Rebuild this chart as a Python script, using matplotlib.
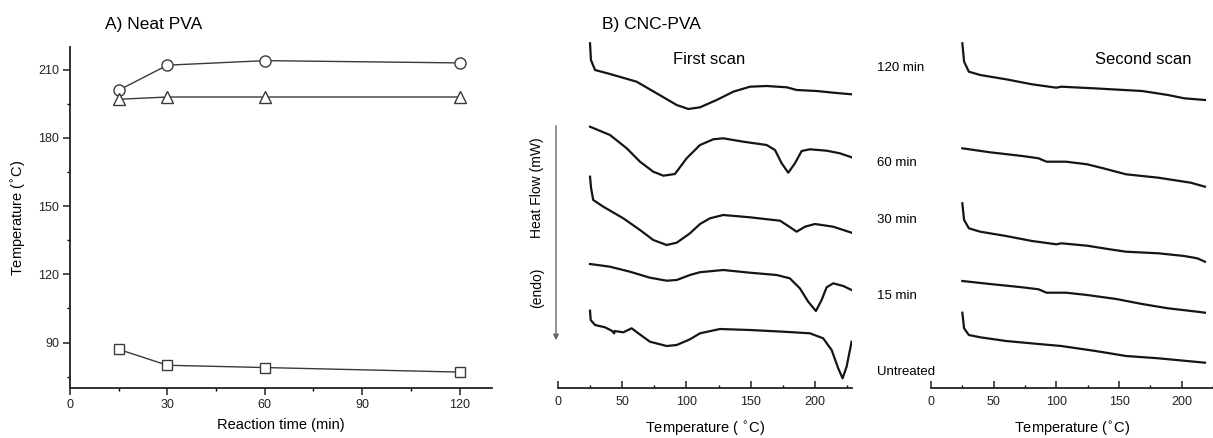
import matplotlib
matplotlib.use('Agg')
import matplotlib.pyplot as plt

plt.rcParams['font.family'] = ['Liberation Sans', 'DejaVu Sans']

# A) Neat PVA
time_min = [15, 30, 60, 120]
temp_circle = [201, 212, 214, 213]
temp_triangle = [197, 198, 198, 198]
temp_square = [87, 80, 79, 77]

# B) first scan (temperature, heat flow offset)
t1_120 = [25.1, 25.8, 29, 40.6, 61.3, 76.8, 92.4, 101.4, 110.5, 123.4, 136.3, 149.3, 162.2, 177.8, 185.5, 201, 214, 228.2]
h1_120 = [344.7, 328, 318, 314, 306.3, 294.7, 283, 279, 280.7, 288, 296.3, 301.3, 302, 300.7, 298, 297, 295.3, 293.7]
t1_60 = [25.1, 40.6, 53.6, 63.9, 74.2, 82, 91, 100.1, 110.5, 120.8, 128.5, 144.1, 162.2, 168.7, 173.9, 179, 184.2, 189.4, 195.8, 208.8, 219.1, 228.2]
h1_60 = [261.3, 253, 239.7, 226.3, 216.3, 212.3, 214, 229.7, 243, 248.7, 249.7, 246.3, 243, 238, 224.7, 215.3, 224.7, 237, 238.7, 237.3, 234.7, 230.7]
t1_30 = [25.1, 25.9, 27.6, 35.4, 50.9, 63.9, 74.2, 84.6, 92.4, 102.7, 110.5, 118.2, 128.5, 149.2, 172.6, 179, 185.5, 192, 199.7, 213.9, 228.2]
h1_30 = [211.3, 200, 188, 181.3, 169.7, 158, 148, 143, 145.3, 154.7, 164, 169.7, 173, 170.7, 167.3, 162, 156.3, 161.3, 164, 161.3, 155.3]
t1_15 = [25.1, 40.6, 56.1, 71.6, 84.6, 92.4, 102.7, 110.5, 128.5, 149.2, 170, 180.2, 188, 194.5, 200.5, 204.9, 208.8, 213.9, 221.7, 228.2]
h1_15 = [124, 121.3, 116.3, 110.3, 107.3, 108, 113, 115.8, 118, 115.3, 113, 109.7, 99.7, 86.3, 77, 88, 100.7, 104.7, 102, 98]
t1_un = [25.1, 25.6, 29, 36.7, 41.9, 43.9, 44.1, 50.9, 57.4, 62.6, 71.6, 84.6, 92.4, 102.7, 110.5, 126, 149.2, 175.1, 195.8, 206.1, 212.7, 217.8, 221.2, 224.3, 228.2]
h1_un = [77.3, 68, 63, 60.7, 57.3, 54.7, 57, 55.7, 59.7, 54.7, 46.3, 42, 43, 48.7, 54.7, 59, 58, 56.3, 54.7, 49.7, 38, 19.7, 9.7, 21.3, 46.3]

# B) second scan
t2_120 = [25, 26.4, 30.2, 39.3, 59.9, 80.6, 100, 103.9, 129.7, 168.4, 189.1, 202, 218.6]
h2_120 = [344.7, 326.3, 316.3, 313, 308.7, 303.7, 300.3, 301.3, 299.7, 297, 293, 289.7, 288]
t2_60 = [25, 47.1, 72.9, 85.8, 92.2, 107.8, 124.6, 137.4, 155.6, 181.4, 207.2, 218.6]
h2_60 = [239.7, 235.7, 232, 229.7, 226.3, 226.3, 223.7, 219.7, 213.7, 210.3, 205.3, 201.3]
t2_30 = [25, 26.4, 30.2, 39.3, 59.9, 80.6, 100, 103.9, 124.6, 142.6, 155.6, 181.4, 202.1, 212.4, 218.6]
h2_30 = [184.7, 168, 159.7, 156.3, 152, 147, 143.7, 144.7, 142.3, 138.7, 136.3, 134.7, 132, 129.7, 126.3]
t2_15 = [25, 47.1, 72.9, 85.8, 92.2, 107.8, 124.6, 147.8, 168.4, 189.1, 212.4, 218.6]
h2_15 = [107, 104, 100.7, 98.7, 95.3, 95.3, 93, 89, 84, 79.7, 76.3, 75.3]
t2_un = [25, 26.4, 30.2, 39.3, 59.9, 85.8, 103.9, 129.7, 142.6, 155.6, 181.4, 218.6]
h2_un = [75.3, 59.7, 53, 50.7, 47, 44, 42, 37.3, 34.7, 32, 29.7, 25.3]

sample_names = ['120 min', '60 min', '30 min', '15 min', 'Untreated']

W, H = 1213, 438
fig = plt.figure(figsize=(W / 100, H / 100), dpi=100)


def box(x0, y0, x1, y1):
    # pixel box -> figure fraction
    return [x0 / W, 1 - y1 / H, (x1 - x0) / W, (y1 - y0) / H]


def ftext(x, y, s, **kw):
    fig.text(x / W, 1 - y / H, s, **kw)


# ---- panel A
ax = fig.add_axes(box(70, 47, 492, 388))
lc = '#3a3a3a'
ax.plot(time_min, temp_circle, '-o', color=lc, lw=1, mfc='white', mec=lc, ms=8, mew=1)
ax.plot(time_min, temp_triangle, '-^', color=lc, lw=1, mfc='white', mec=lc, ms=8.5, mew=1)
ax.plot(time_min, temp_square, '-s', color=lc, lw=1, mfc='white', mec=lc, ms=7, mew=1)
ax.set_xlim(0, 130)
ax.set_ylim(70, 220)
ax.set_xticks([0, 30, 60, 90, 120])
ax.set_xticks([15, 45, 75, 105], minor=True)
ax.set_yticks([90, 120, 150, 180, 210])
ax.set_yticks([75, 105, 135, 165, 195], minor=True)
ax.spines['top'].set_visible(False)
ax.spines['right'].set_visible(False)
for s in ['left', 'bottom']:
    ax.spines[s].set_linewidth(1.3)
    ax.spines[s].set_color('#222222')
ax.tick_params(which='major', direction='out', length=4.8, width=1.1, labelsize=9, pad=3, colors='#222222')
ax.tick_params(which='minor', direction='out', length=2.4, width=1)
ax.set_xlabel('Reaction time (min)', fontsize=10.5, labelpad=5)
ax.set_ylabel('Temperature ($^{\\circ}$C)', fontsize=10.5, labelpad=7)
ftext(105, 25, 'A) Neat PVA', fontsize=12.5, va='center', ha='left')

# ---- panel B, first scan
cc = '#151515'
b1 = fig.add_axes(box(557.7, 30, 852, 388))
for t, h in [(t1_120, h1_120), (t1_60, h1_60), (t1_30, h1_30), (t1_15, h1_15), (t1_un, h1_un)]:
    b1.plot(t, h, color=cc, lw=1.6, solid_joinstyle='round')
b1.set_xlim(0, 228.5)
b1.set_ylim(0, 358)

# ---- panel B, second scan
b2 = fig.add_axes(box(931, 30, 1213, 388))
for t, h in [(t2_120, h2_120), (t2_60, h2_60), (t2_30, h2_30), (t2_15, h2_15), (t2_un, h2_un)]:
    b2.plot(t, h, color=cc, lw=1.6, solid_joinstyle='round')
b2.set_xlim(0, 218.6)
b2.set_ylim(0, 358)

for b in [b1, b2]:
    for s in ['top', 'right', 'left']:
        b.spines[s].set_visible(False)
    b.spines['bottom'].set_linewidth(1.3)
    b.spines['bottom'].set_color('#222222')
    b.set_yticks([])
    b.set_xticks([0, 50, 100, 150, 200])
    b.set_xticks([25, 75, 125, 175, 225], minor=True)
    b.tick_params(which='major', direction='in', length=5, width=1.1, labelsize=9, pad=6, colors='#222222')
    b.tick_params(which='minor', direction='in', length=2.5, width=1)
    b.patch.set_alpha(0)

b1.set_xlabel('Temperature ( $^{\\circ}$C)', fontsize=10.5, labelpad=8)
b2.set_xlabel('Temperature ($^{\\circ}$C)', fontsize=10.5, labelpad=8)

ftext(602, 25, 'B) CNC-PVA', fontsize=12.5, va='center', ha='left')
ftext(709, 60, 'First scan', fontsize=12, va='center', ha='center')
ftext(1143, 60, 'Second scan', fontsize=12, va='center', ha='center')

for name, y in zip(sample_names, [68, 163, 220, 296, 372]):
    ftext(877, y, name, fontsize=9.5, va='center', ha='left')

ftext(537, 188, 'Heat Flow (mW)', fontsize=10, rotation=90, va='center', ha='center')
ftext(537, 288, '(endo)', fontsize=10, rotation=90, va='center', ha='center')
fig.add_artist(matplotlib.patches.FancyArrowPatch(
    (556 / W, 1 - 123 / H), (556 / W, 1 - 343 / H), transform=fig.transFigure,
    arrowstyle='-|>', mutation_scale=8, color='#666666', lw=1))

fig.savefig('out.png', dpi=100)
